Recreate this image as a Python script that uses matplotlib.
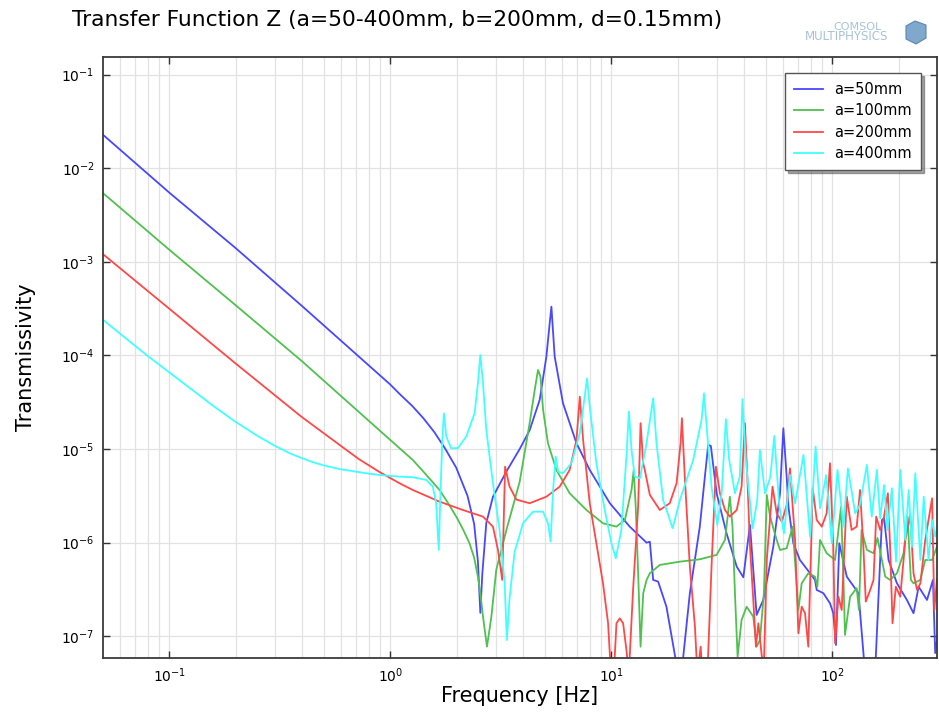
import numpy as np
import matplotlib
matplotlib.use("Agg")
import matplotlib.pyplot as plt
from matplotlib.ticker import FixedLocator, NullFormatter, NullLocator, LogFormatterSciNotation
from matplotlib.patches import Polygon

# values, stored as log10(frequency [Hz]) and log10(transmissivity)
# points below the visible range are given as -7.4 and get clipped by the axes
a50_logf = [-1.299, -1.0, -0.701, -0.4, -0.3, -0.1, 0.0, 0.042, 0.1, 0.15, 0.2, 0.25, 0.299, 0.35,
            0.38, 0.397, 0.408, 0.417, 0.435, 0.465, 0.526, 0.586, 0.631, 0.6765, 0.7068, 0.7218,
            0.7295, 0.7444, 0.782, 0.843, 0.903, 0.994, 1.084, 1.16, 1.175, 1.19, 1.2125, 1.25,
            1.303, 1.318, 1.356, 1.401, 1.424, 1.439, 1.451, 1.477, 1.522, 1.568, 1.598, 1.628,
            1.658, 1.688, 1.7335, 1.764, 1.779, 1.794, 1.802, 1.824, 1.854, 1.9, 1.922, 1.93, 1.96,
            1.99, 2.005, 2.017, 2.032, 2.066, 2.119, 2.149, 2.194, 2.225, 2.235, 2.255, 2.293,
            2.338, 2.368, 2.391, 2.429, 2.456, 2.466, 2.477]
a50_logt = [-1.644, -2.26, -2.85, -3.47, -3.68, -4.10, -4.31, -4.41, -4.54, -4.67, -4.82, -5.0,
            -5.2, -5.5, -5.8, -6.2, -6.75, -6.33, -5.79, -5.51, -5.24, -5.0, -4.80, -4.475, -4.013,
            -3.656, -3.479, -4.013, -4.511, -4.938, -5.223, -5.579, -5.829, -6.0, -5.99, -6.398,
            -6.416, -6.684, -7.4, -7.4, -6.54, -5.829, -5.295, -4.956, -4.967, -5.472, -5.9, -6.256,
            -6.37, -5.81, -6.772, -6.612, -6.043, -5.472, -4.778, -5.295, -5.616, -6.006, -6.185,
            -6.327, -6.398, -6.505, -6.54, -6.647, -6.754, -7.093, -6.006, -6.363, -6.54, -7.4,
            -7.4, -5.758, -5.74, -6.185, -6.434, -6.612, -6.754, -6.47, -6.612, -6.398, -7.18, -7.0]

a100_logf = [-1.299, -1.0, -0.701, -0.4, -0.0485, 0.042, 0.102, 0.15, 0.2234, 0.26, 0.299, 0.33,
             0.359, 0.38, 0.397, 0.41, 0.42, 0.438, 0.458, 0.48, 0.526, 0.586, 0.631, 0.654, 0.669,
             0.68, 0.692, 0.714, 0.752, 0.812, 0.888, 0.963, 1.024, 1.062, 1.092, 1.102, 1.111,
             1.122, 1.133, 1.145, 1.16, 1.175, 1.22, 1.311, 1.401, 1.477, 1.515, 1.537, 1.549, 1.56,
             1.572, 1.59, 1.613, 1.643, 1.658, 1.673, 1.691, 1.704, 1.719, 1.749, 1.764, 1.794,
             1.821, 1.847, 1.862, 1.892, 1.922, 1.933, 1.945, 1.975, 2.013, 2.04, 2.051, 2.058,
             2.081, 2.111, 2.121, 2.133, 2.157, 2.187, 2.205, 2.24, 2.262, 2.293, 2.323, 2.341,
             2.356, 2.368, 2.399, 2.421, 2.452, 2.474]
a100_logt = [-2.267, -2.87, -3.46, -4.06, -4.80, -4.99, -5.116, -5.24, -5.437, -5.57, -5.722, -5.86,
             -6.006, -6.16, -6.363, -6.58, -6.79, -7.111, -6.79, -6.292, -5.864, -5.35, -4.724,
             -4.369, -4.155, -4.226, -4.582, -4.938, -5.223, -5.472, -5.651, -5.793, -5.829, -5.758,
             -5.437, -5.223, -5.616, -6.327, -7.111, -6.54, -6.4, -6.327, -6.238, -6.203, -6.178,
             -6.131, -5.971, -5.509, -5.829, -6.54, -7.218, -6.826, -6.684, -6.79, -7.111, -7.04,
             -6.54, -5.49, -5.722, -5.971, -6.078, -6.06, -5.829, -6.719, -6.434, -6.327, -6.363,
             -6.47, -5.971, -6.113, -6.185, -5.616, -6.398, -6.986, -6.577, -6.487, -6.719, -5.864,
             -6.078, -6.113, -5.95, -6.363, -6.398, -6.327, -6.113, -5.722, -6.398, -6.434, -6.398,
             -6.185, -6.185, -6.043]

a200_logf = [-1.299, -1.0, -0.701, -0.402, -0.2266, -0.14, -0.0485, 0.042, 0.102, 0.2234, 0.329,
             0.42, 0.465, 0.488, 0.507, 0.52, 0.54, 0.571, 0.631, 0.707, 0.767, 0.812, 0.843, 0.858,
             0.873, 0.903, 0.933, 0.963, 0.986, 0.999, 1.012, 1.024, 1.039, 1.054, 1.069, 1.08,
             1.099, 1.122, 1.133, 1.145, 1.152, 1.175, 1.22, 1.265, 1.296, 1.314, 1.32, 1.333, 1.356,
             1.379, 1.39, 1.405, 1.412, 1.437, 1.455, 1.474, 1.492, 1.515, 1.537, 1.568, 1.59, 1.605,
             1.616, 1.628, 1.643, 1.655, 1.666, 1.677, 1.69, 1.704, 1.73, 1.749, 1.772, 1.794, 1.809,
             1.832, 1.847, 1.862, 1.877, 1.892, 1.912, 1.93, 1.953, 1.975, 1.99, 2.005, 2.013, 2.028,
             2.043, 2.066, 2.088, 2.111, 2.126, 2.141, 2.152, 2.172, 2.187, 2.199, 2.217, 2.232,
             2.252, 2.262, 2.273, 2.288, 2.308, 2.331, 2.353, 2.368, 2.384, 2.399, 2.421, 2.452,
             2.462, 2.474]
a200_logt = [-2.919, -3.50, -4.083, -4.654, -4.96, -5.11, -5.245, -5.365, -5.437, -5.562, -5.651,
             -5.722, -5.829, -6.078, -6.398, -5.188, -5.40, -5.54, -5.579, -5.509, -5.402, -5.223,
             -4.903, -4.44, -4.903, -5.579, -6.006, -6.434, -6.861, -7.4, -7.4, -6.861, -6.808,
             -6.861, -7.146, -7.4, -6.505, -5.616, -4.724, -5.152, -5.223, -5.49, -5.651, -5.579,
             -5.365, -4.938, -4.671, -5.295, -6.256, -6.897, -7.4, -7.111, -7.4, -7.3, -6.2, -5.188,
             -5.472, -5.651, -5.722, -5.651, -5.402, -4.724, -5.295, -6.043, -6.612, -7.111, -6.861,
             -7.111, -7.4, -6.185, -5.402, -5.686, -5.776, -5.60, -5.206, -5.971, -6.968, -6.684,
             -6.754, -7.111, -5.419, -5.758, -5.829, -5.686, -5.152, -6.043, -7.075, -6.577, -6.719,
             -5.509, -5.864, -5.829, -5.437, -6.043, -6.63, -6.505, -6.398, -5.722, -5.864, -5.758,
             -5.472, -6.043, -6.861, -6.47, -6.577, -5.971, -5.704, -6.327, -6.505, -6.434, -5.971,
             -5.526, -6.719, -6.398]

a400_logf = [-1.299, -1.2, -1.1, -1.0, -0.9, -0.8, -0.701, -0.6, -0.523, -0.45, -0.402, -0.35,
             -0.3, -0.2266, -0.1, -0.0485, 0.042, 0.102, 0.163, 0.193, 0.208, 0.22, 0.228, 0.236,
             0.243, 0.254, 0.276, 0.306, 0.344, 0.382, 0.397, 0.408, 0.42, 0.435, 0.465, 0.495,
             0.518, 0.528, 0.54, 0.563, 0.601, 0.646, 0.692, 0.714, 0.726, 0.737, 0.749, 0.76, 0.782,
             0.82, 0.858, 0.88, 0.891, 0.903, 0.933, 0.971, 1.001, 1.021, 1.046, 1.069, 1.08, 1.092,
             1.107, 1.13, 1.16, 1.19, 1.205, 1.235, 1.278, 1.311, 1.371, 1.409, 1.42, 1.432, 1.454,
             1.48, 1.5, 1.519, 1.534, 1.56, 1.582, 1.594, 1.609, 1.64, 1.661, 1.673, 1.696, 1.72,
             1.738, 1.761, 1.782, 1.809, 1.832, 1.87, 1.9, 1.925, 1.945, 1.973, 1.998, 2.024, 2.051,
             2.071, 2.104, 2.125, 2.157, 2.179, 2.202, 2.217, 2.235, 2.25, 2.27, 2.289, 2.308, 2.331,
             2.346, 2.361, 2.376, 2.399, 2.414, 2.436, 2.452, 2.466, 2.477]
a400_logt = [-3.62, -3.81, -4.0, -4.18, -4.36, -4.54, -4.707, -4.86, -4.964, -5.05, -5.095, -5.14,
             -5.175, -5.215, -5.262, -5.277, -5.295, -5.301, -5.33, -5.402, -5.579, -6.078, -5.437,
             -4.903, -4.618, -4.868, -4.991, -4.991, -4.868, -4.618, -4.297, -3.995, -4.297, -4.796,
             -5.365, -5.864, -6.434, -7.04, -6.6, -6.1, -5.793, -5.669, -5.669, -5.793, -5.989,
             -5.437, -5.081, -5.241, -5.259, -5.152, -4.832, -4.44, -4.244, -4.547, -5.152, -5.651,
             -6.006, -6.167, -5.864, -5.081, -4.6, -5.01, -5.295, -5.312, -4.938, -4.457, -4.938,
             -5.544, -5.846, -5.544, -5.117, -4.689, -4.404, -4.761, -5.402, -5.811, -5.472, -4.681,
             -5.117, -5.472, -5.295, -4.468, -5.117, -5.846, -5.544, -5.01, -5.472, -5.3, -4.86,
             -5.616, -5.9, -5.277, -5.579, -5.063, -5.936, -4.974, -5.633, -5.277, -6.006, -5.223,
             -5.829, -5.206, -5.686, -5.6, -5.17, -5.722, -5.223, -5.74, -5.384, -5.864, -5.419,
             -6.203, -5.223, -5.971, -5.437, -6.043, -5.259, -6.185, -5.509, -6.185, -5.758, -5.936,
             -5.829]

labels = ["a=50mm", "a=100mm", "a=200mm", "a=400mm"]
colors = ["#4848ff", "#50c050", "#ff4848", "#40ffff"]

x_major = [0.1, 1, 10, 100]
x_minor = [m * 10.0 ** e for e in range(-2, 3) for m in range(2, 10) if 0.05 <= m * 10.0 ** e <= 300]
y_major = [1e-7, 1e-6, 1e-5, 1e-4, 1e-3, 1e-2, 1e-1]

fig = plt.figure(figsize=(9.39, 7.13), dpi=100)
ax = fig.add_axes([103 / 939, 55 / 713, 834 / 939, 601 / 713])

series = [(a50_logf, a50_logt), (a100_logf, a100_logt), (a200_logf, a200_logt), (a400_logf, a400_logt)]
for (lf, lt), c, lab in zip(series, colors, labels):
    ax.plot(10 ** np.array(lf), 10 ** np.array(lt), color=c, lw=1.3, label=lab)

ax.set_xscale("log")
ax.set_yscale("log")
ax.set_xlim(0.0502, 298)
ax.set_ylim(5.86e-8, 0.154)

ax.xaxis.set_major_locator(FixedLocator(x_major))
ax.xaxis.set_major_formatter(LogFormatterSciNotation())
ax.xaxis.set_minor_locator(FixedLocator(x_minor))
ax.xaxis.set_minor_formatter(NullFormatter())
ax.yaxis.set_major_locator(FixedLocator(y_major))
ax.yaxis.set_major_formatter(LogFormatterSciNotation())
ax.yaxis.set_minor_locator(NullLocator())

ax.grid(True, which="major", color="#e2e2e2", lw=0.9)
ax.grid(True, which="minor", axis="x", color="#e2e2e2", lw=0.9)
ax.set_axisbelow(True)

ax.tick_params(which="major", direction="in", length=5, width=1, color="#333333",
               top=True, right=True, labelsize=10, pad=6)
ax.tick_params(which="minor", length=0)
for sp in ax.spines.values():
    sp.set_color("#3a3a3a")
    sp.set_linewidth(1.3)

ax.set_xlabel("Frequency [Hz]", fontsize=15, labelpad=1)
ax.set_ylabel("Transmissivity", fontsize=15, labelpad=18)

leg = ax.legend(loc="upper right", bbox_to_anchor=(1 - 16 / 834, 1 - 16 / 601), borderaxespad=0,
                fontsize=10.5, frameon=True, fancybox=False, shadow=True, edgecolor="#555555",
                handlelength=2.0, labelspacing=0.45, borderpad=0.6)
leg.get_frame().set_linewidth(1.0)

fig.text(72 / 939, 1 - 20 / 713, "Transfer Function Z (a=50-400mm, b=200mm, d=0.15mm)",
         fontsize=15.7, va="center", ha="left")

# COMSOL logo in the corner
fig.text(857 / 939, 1 - 27 / 713, "COMSOL", fontsize=8, color="#a8c2da", ha="center", va="center")
fig.text(847 / 939, 1 - 37 / 713, "MULTIPHYSICS", fontsize=8.5, color="#a8c2da", ha="center", va="center")
cube = Polygon([(906 / 939, 1 - 26 / 713), (915 / 939, 1 - 21 / 713), (926 / 939, 1 - 25 / 713),
                (926 / 939, 1 - 38 / 713), (916 / 939, 1 - 44 / 713), (906 / 939, 1 - 39 / 713)],
               closed=True, transform=fig.transFigure, facecolor="#7fa8cc", edgecolor="#5b88b3", lw=0.8)
fig.patches.append(cube)

fig.savefig("out.png", dpi=100)
plt.close(fig)
